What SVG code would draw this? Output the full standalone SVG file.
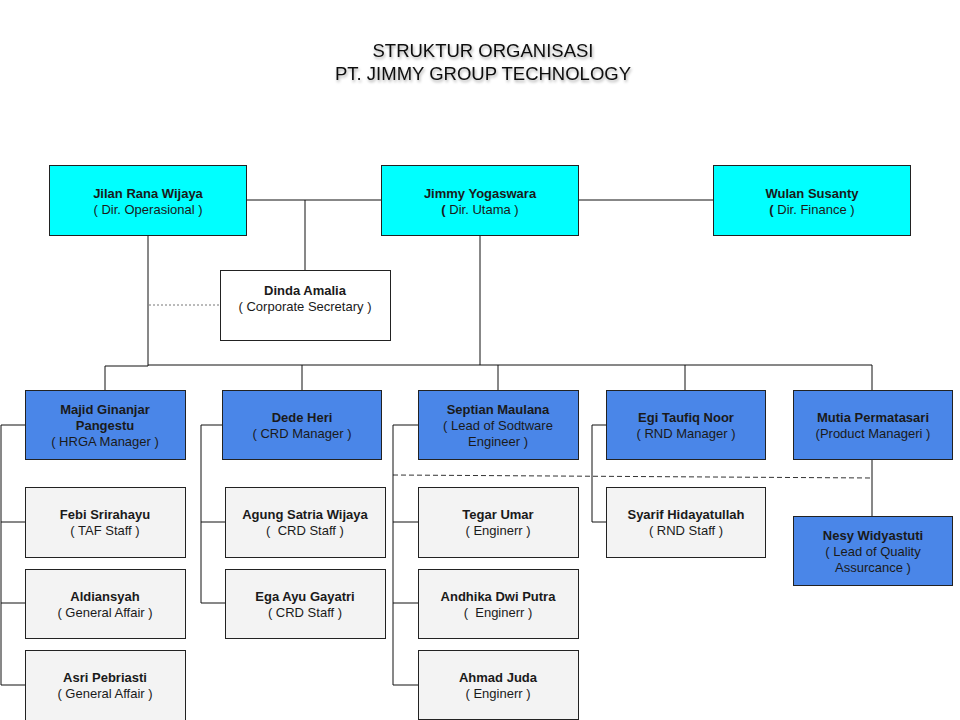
<svg xmlns="http://www.w3.org/2000/svg" width="960" height="720" viewBox="0 0 960 720">
<defs>
<filter id="sh" x="-10%" y="-50%" width="120%" height="200%">
<feDropShadow dx="1" dy="2" stdDeviation="1.6" flood-color="#000" flood-opacity="0.35"/>
</filter>
</defs>
<style>
.cyan{fill:#00ffff;stroke:#222;stroke-width:1}
.blue{fill:#4a86e8;stroke:#222;stroke-width:1}
.grey{fill:#f3f3f3;stroke:#222;stroke-width:1}
.white{fill:#ffffff;stroke:#222;stroke-width:1}
text{font-family:"Liberation Sans",Arial,sans-serif;font-size:13px;fill:#1a1a1a;text-anchor:middle;white-space:pre}
.b{font-weight:bold}
.title{font-size:18.5px;fill:#111}
.ln{stroke:#111;stroke-width:1;fill:none}
.dot{stroke:#777;stroke-width:1;stroke-dasharray:2 2;fill:none}
.dash{stroke:#333;stroke-width:1;stroke-dasharray:5 3;fill:none}
</style>
<rect width="960" height="720" fill="#fff"/>
<g id="title" filter="url(#sh)">
<text class="title" x="483" y="57">STRUKTUR ORGANISASI</text>
<text class="title" x="483" y="80">PT. JIMMY GROUP TECHNOLOGY</text>
</g>
<g id="connectors">
<path class="ln" d="M246 200 H381 M578 200 H713 M305 200 V270"/>
<path class="ln" d="M148 235 V366 H105 V390 M480 235 V365 M148 365 H872 V390 M302 365 V390 M498 365 V390 M685 365 V390 M872 459 V516"/>
<path class="dot" d="M149 305 H220"/>
<path class="dash" d="M393 475 L872 478"/>
<path class="ln" d="M25 425 H1 V685 H25 M1 522 H25 M1 603 H25"/>
<path class="ln" d="M222 425 H201 V603 H225 M201 522 H225"/>
<path class="ln" d="M418 425 H393 V685 H418 M393 522 H418 M393 603 H418"/>
<path class="ln" d="M606 425 H592 V522 H606"/>
</g>
<g id="jilan"><rect class="cyan" x="49.5" y="165.5" width="197" height="70"/><text class="b" x="148" y="197.5">Jilan Rana Wijaya</text><text x="148" y="213.5">( Dir. Operasional )</text></g>
<g id="jimmy"><rect class="cyan" x="381.5" y="165.5" width="197" height="70"/><text class="b" x="480" y="197.5">Jimmy Yogaswara</text><text x="480" y="213.5"><tspan class="b">(</tspan> Dir. Utama )</text></g>
<g id="wulan"><rect class="cyan" x="713.5" y="165.5" width="197" height="70"/><text class="b" x="812" y="197.5">Wulan Susanty</text><text x="812" y="213.5"><tspan class="b">(</tspan> Dir. Finance )</text></g>
<g id="dinda"><rect class="white" x="220.5" y="270.5" width="170" height="70"/><text class="b" x="305" y="294.5">Dinda Amalia</text><text x="305" y="310.5">( Corporate Secretary )</text></g>
<g id="majid"><rect class="blue" x="25.5" y="390.5" width="160" height="69"/><text class="b" x="105" y="413.5">Majid Ginanjar</text><text class="b" x="105" y="429.5">Pangestu</text><text x="105" y="445.5">( HRGA Manager )</text></g>
<g id="dede"><rect class="blue" x="222.5" y="390.5" width="159" height="69"/><text class="b" x="302" y="421.5">Dede Heri</text><text x="302" y="437.5">( CRD Manager )</text></g>
<g id="septian"><rect class="blue" x="418.5" y="390.5" width="160" height="69"/><text class="b" x="498" y="413.5">Septian Maulana</text><text x="498" y="429.5">( Lead of Sodtware</text><text x="498" y="445.5">Engineer )</text></g>
<g id="egi"><rect class="blue" x="606.5" y="390.5" width="159" height="69"/><text class="b" x="686" y="421.5">Egi Taufiq Noor</text><text x="686" y="437.5">( RND Manager )</text></g>
<g id="mutia"><rect class="blue" x="793.5" y="390.5" width="159" height="69"/><text class="b" x="873" y="421.5">Mutia Permatasari</text><text x="873" y="437.5">(Product Manageri )</text></g>
<g id="febi"><rect class="grey" x="25.5" y="487.5" width="160" height="70"/><text class="b" x="105" y="519">Febi Srirahayu</text><text x="105" y="535">( TAF Staff )</text></g>
<g id="aldiansyah"><rect class="grey" x="25.5" y="569.5" width="160" height="69"/><text class="b" x="105" y="600.5">Aldiansyah</text><text x="105" y="616.5">( General Affair )</text></g>
<g id="asri"><rect class="grey" x="25.5" y="650.5" width="160" height="72"/><text class="b" x="105" y="681.5">Asri Pebriasti</text><text x="105" y="697.5">( General Affair )</text></g>
<g id="agung"><rect class="grey" x="225.5" y="487.5" width="160" height="70"/><text class="b" x="305" y="519">Agung Satria Wijaya</text><text x="305" y="535">(  CRD Staff )</text></g>
<g id="ega"><rect class="grey" x="225.5" y="569.5" width="160" height="69"/><text class="b" x="305" y="600.5">Ega Ayu Gayatri</text><text x="305" y="616.5">( CRD Staff )</text></g>
<g id="tegar"><rect class="grey" x="418.5" y="487.5" width="160" height="70"/><text class="b" x="498" y="519">Tegar Umar</text><text x="498" y="535">( Enginerr )</text></g>
<g id="andhika"><rect class="grey" x="418.5" y="569.5" width="160" height="69"/><text class="b" x="498" y="600.5">Andhika Dwi Putra</text><text x="498" y="616.5">(  Enginerr )</text></g>
<g id="ahmad"><rect class="grey" x="418.5" y="650.5" width="160" height="69"/><text class="b" x="498" y="681.5">Ahmad Juda</text><text x="498" y="697.5">( Enginerr )</text></g>
<g id="syarif"><rect class="grey" x="606.5" y="487.5" width="159" height="70"/><text class="b" x="686" y="519">Syarif Hidayatullah</text><text x="686" y="535">( RND Staff )</text></g>
<g id="nesy"><rect class="blue" x="793.5" y="516.5" width="159" height="69"/><text class="b" x="873" y="539.5">Nesy Widyastuti</text><text x="873" y="555.5">( Lead of Quality</text><text x="873" y="571.5">Assurcance )</text></g>
</svg>
